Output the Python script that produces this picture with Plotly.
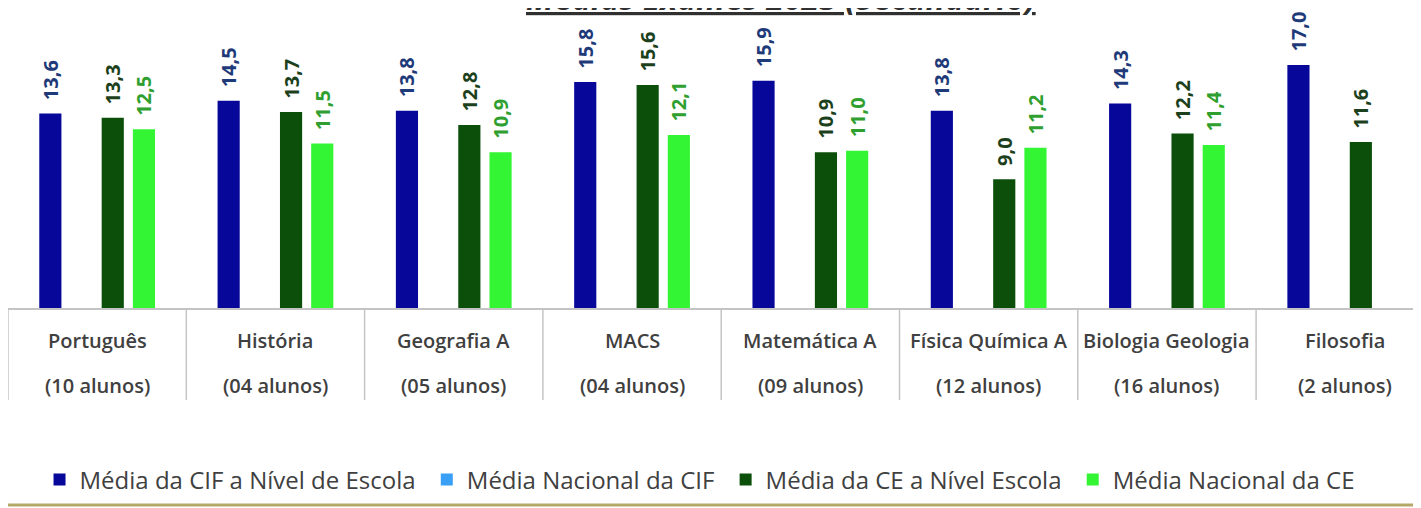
import plotly.graph_objects as go

subjects = ["Português", "História", "Geografia A", "MACS", "Matemática A",
            "Física Química A", "Biologia Geologia", "Filosofia"]
students = ["(10 alunos)", "(04 alunos)", "(05 alunos)", "(04 alunos)", "(09 alunos)",
            "(12 alunos)", "(16 alunos)", "(2 alunos)"]
cif_escola = [13.6, 14.5, 13.8, 15.8, 15.9, 13.8, 14.3, 17.0]
cif_nacional = [None] * 8
ce_escola = [13.3, 13.7, 12.8, 15.6, 10.9, 9.0, 12.2, 11.6]
ce_nacional = [12.5, 11.5, 10.9, 12.1, 11.0, 11.2, 11.4, None]

series_names = ["Média da CIF a Nível de Escola", "Média Nacional da CIF",
                "Média da CE a Nível Escola", "Média Nacional da CE"]
series_vals = [cif_escola, cif_nacional, ce_escola, ce_nacional]
bar_colors = ["#07079a", "#3aa0f5", "#0b4f0b", "#33f533"]
label_colors = ["#1f3a78", "#3aa0f5", "#1c3f1c", "#2fa02f"]

FONT = "Open Sans"
PH = 300  # plot-area height in px
x_idx = list(range(len(subjects)))

fig = go.Figure()
for k, (name, vals, bc, lc) in enumerate(zip(series_names, series_vals, bar_colors, label_colors)):
    legend_name = name + ("\u00a0" if k < len(series_names) - 1 else "")
    fig.add_trace(go.Bar(
        x=x_idx, y=vals, name=legend_name,
        marker=dict(color=bc, line=dict(width=0)),
        text=[("" if v is None else "\u00a0\u00a0" + f"{v:.1f}".replace(".", ",")) for v in vals],
        textposition="outside", textangle=-90,
        outsidetextfont=dict(family=FONT, size=20, color=lc, weight="bold"),
        cliponaxis=False,
    ))

# category labels and dividers
for i, (s, n) in enumerate(zip(subjects, students)):
    fig.add_annotation(x=i, y=-32 / PH, xref="x", yref="paper", text=s, showarrow=False,
                       font=dict(family=FONT, size=20, color="#404040", weight=600),
                       yanchor="middle")
    fig.add_annotation(x=i, y=-77 / PH, xref="x", yref="paper", text=n, showarrow=False,
                       font=dict(family=FONT, size=20, color="#404040", weight=600),
                       yanchor="middle")
for i in range(len(subjects) + 1):
    fig.add_shape(type="line", xref="x", yref="paper", x0=i - 0.5, x1=i - 0.5,
                  y0=0, y1=-92 / PH, line=dict(color="#c4c4c4", width=1.5))

# title (partially cut at the top)
fig.add_annotation(x=773 / 1421, y=1 + 10 / PH, xref="paper", yref="paper",
                   text="<b><i><u>Médias Exames 2023 (Secundário)</u></i></b>",
                   showarrow=False, yanchor="middle",
                   font=dict(family=FONT, size=32, color="#303030"))

# bottom border line
fig.add_shape(type="line", xref="paper", yref="paper", x0=-0.01, x1=1.01,
              y0=-197 / PH, y1=-197 / PH, line=dict(color="#b5a96a", width=3))

fig.update_layout(
    width=1421, height=508,
    margin=dict(l=0, r=0, t=0, b=508 - PH),
    paper_bgcolor="white", plot_bgcolor="white",
    barmode="group", bargap=0.3, bargroupgap=0.29,
    uniformtext=dict(minsize=20, mode="show"),
    showlegend=True,
    legend=dict(orientation="h", x=0.487, xanchor="center", y=-172 / PH, yanchor="middle",
                font=dict(family=FONT, size=24, color="#404040"),
                itemwidth=30, traceorder="normal"),
    xaxis=dict(range=[-0.5, -0.5 + 1421 / 178.3], showticklabels=False, showgrid=False,
               zeroline=False, showline=True, linecolor="#c4c4c4", linewidth=1.5, ticks=""),
    yaxis=dict(range=[0, PH / 14.3], visible=False),
)

fig.write_html("out.html")
